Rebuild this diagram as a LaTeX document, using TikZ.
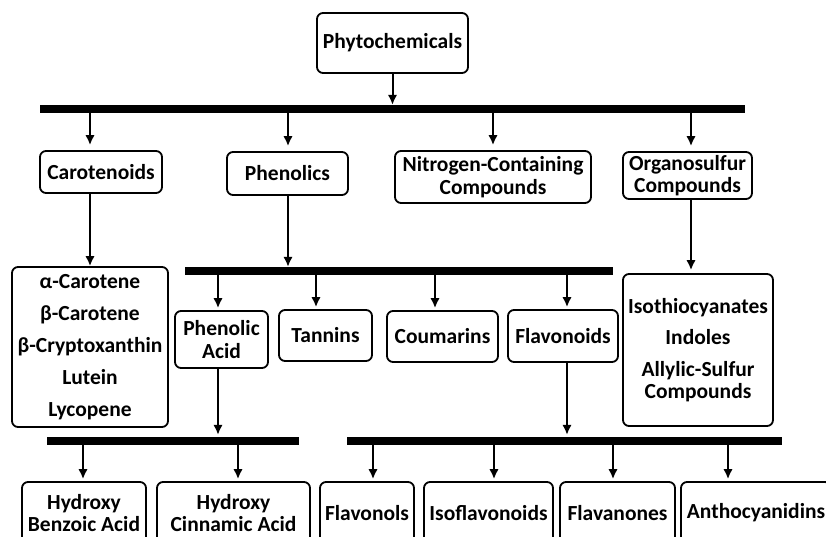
\documentclass[tikz,border=0pt]{standalone}
\usepackage{fontspec}
\setmainfont{Carlito}
\usetikzlibrary{arrows.meta}
\begin{document}
\begin{tikzpicture}[x=1pt,y=-1pt,
 box/.style={draw, line width=1.8pt, rounded corners=6pt, font=\bfseries\fontsize{21.5}{22.5}\selectfont, align=center, inner sep=0pt},
 bar/.style={fill=black, inner sep=0pt, minimum height=8pt},
 arr/.style={line width=2pt, -{Latex[length=10pt,width=9.5pt]}}]
\useasboundingbox (0,0) rectangle (826,537);
\clip (0,0) rectangle (826,537);
% level 0
\node[box, minimum width=151pt, minimum height=60pt] (phyto) at (392.5,43) {Phytochemicals};
\node[bar, minimum width=705pt] (bar1) at (392.5,109) {};
% level 1
\node[box, minimum width=122pt, minimum height=42pt] (car) at (101,172) {Carotenoids};
\node[box, minimum width=121pt, minimum height=43pt] (phen) at (287.5,173.5) {Phenolics};
\node[box, minimum width=196pt, minimum height=52pt] (nitro) at (493,177) {Nitrogen-Containing\\Compounds};
\node[box, minimum width=129pt, minimum height=47pt] (orgs) at (687.5,175.5) {Organosulfur\\Compounds};
% level 2
\node[box, minimum width=156pt, minimum height=160pt] (carlist) at (90,347) {α-Carotene\\[9.5pt]β-Carotene\\[9.5pt]β-Cryptoxanthin\\[9.5pt]Lutein\\[9.5pt]Lycopene};
\node[box, minimum width=150pt, minimum height=152pt] (isolist) at (698,350) {Isothiocyanates\\[8.5pt]Indoles\\[9.5pt]Allylic-Sulfur\\Compounds};
\node[bar, minimum width=428pt] (bar2) at (399,271) {};
\node[box, minimum width=93pt, minimum height=57pt] (pacid) at (221.5,339.5) {Phenolic\\Acid};
\node[box, minimum width=93pt, minimum height=51pt] (tann) at (325.5,335.5) {Tannins};
\node[box, minimum width=111pt, minimum height=51pt] (coum) at (442.5,336.5) {Coumarins};
\node[box, minimum width=110pt, minimum height=52pt] (flavd) at (563,336) {Flavonoids};
% level 3
\node[bar, minimum width=252pt] (bar3) at (173,441) {};
\node[bar, minimum width=435pt] (bar4) at (564.5,441) {};
\node[box, minimum width=124pt, minimum height=62pt] (hbenz) at (84,513) {Hydroxy\\Benzoic Acid};
\node[box, minimum width=153pt, minimum height=62pt] (hcinn) at (233.5,513) {Hydroxy\\Cinnamic Acid};
\node[box, minimum width=94pt, minimum height=62pt] (flavl) at (367,513) {Flavonols};
\node[box, minimum width=129pt, minimum height=62pt] (isofl) at (488.5,513) {Isoflavonoids};
\node[box, minimum width=115pt, minimum height=62pt] (flavn) at (617.5,513) {Flavanones};
\node[box, minimum width=150pt, minimum height=62pt] (antho) at (756,513) {Anthocyanidins};
% connectors
\draw[arr] (phyto.south) -- (phyto.south |- bar1.north);
\draw[arr, shorten >=5pt] (90,0 |- bar1.south) -- (90,0 |- car.north);
\draw[arr, shorten >=5pt] (288,0 |- bar1.south) -- (288,0 |- phen.north);
\draw[arr, shorten >=5pt] (493,0 |- bar1.south) -- (493,0 |- nitro.north);
\draw[arr, shorten >=5pt] (691,0 |- bar1.south) -- (691,0 |- orgs.north);
\draw[arr] (90,0 |- car.south) -- (90,0 |- carlist.north);
\draw[arr] (288,0 |- phen.south) -- (288,0 |- bar2.north);
\draw[arr, shorten >=3pt] (691,0 |- orgs.south) -- (691,0 |- isolist.north);
\draw[arr, shorten >=2pt] (218,0 |- bar2.south) -- (218,0 |- pacid.north);
\draw[arr, shorten >=2pt] (316,0 |- bar2.south) -- (316,0 |- tann.north);
\draw[arr, shorten >=2pt] (435,0 |- bar2.south) -- (435,0 |- coum.north);
\draw[arr, shorten >=2pt] (567,0 |- bar2.south) -- (567,0 |- flavd.north);
\draw[arr, shorten >=2pt] (218,0 |- pacid.south) -- (218,0 |- bar3.north);
\draw[arr, shorten >=2pt] (567,0 |- flavd.south) -- (567,0 |- bar4.north);
\draw[arr, shorten >=2pt] (83,0 |- bar3.south) -- (83,0 |- hbenz.north);
\draw[arr, shorten >=2pt] (238,0 |- bar3.south) -- (238,0 |- hcinn.north);
\draw[arr, shorten >=2pt] (373,0 |- bar4.south) -- (373,0 |- flavl.north);
\draw[arr, shorten >=2pt] (494,0 |- bar4.south) -- (494,0 |- isofl.north);
\draw[arr, shorten >=2pt] (613,0 |- bar4.south) -- (613,0 |- flavn.north);
\draw[arr, shorten >=2pt] (728,0 |- bar4.south) -- (728,0 |- antho.north);
\end{tikzpicture}
\end{document}
